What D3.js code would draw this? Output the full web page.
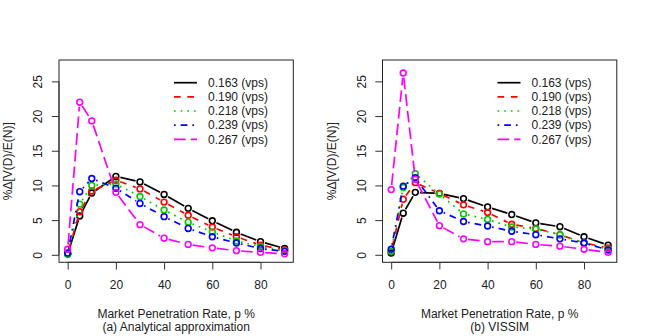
<!DOCTYPE html>
<html>
<head>
<meta charset="utf-8">
<script src="https://d3js.org/d3.v7.min.js"></script>
<style>
  body { margin: 0; background: #fff; }
  svg { display: block; font-family: "Liberation Sans", Arial, sans-serif; }
</style>
</head>
<body>
<div id="chart"></div>
<script>
// Data
const rates = [0, 5, 10, 20, 30, 40, 50, 60, 70, 80, 90];
const flows = ["0.163 (vps)", "0.190 (vps)", "0.218 (vps)", "0.239 (vps)", "0.267 (vps)"];
const yTicks = [0, 5, 10, 15, 20, 25];
const xTicks = [0, 20, 40, 60, 80];

// (a) Analytical approximation
const ana163 = [0.1, 5.6, 8.9, 11.3, 10.5, 8.7, 6.7, 4.9, 3.25, 1.9, 0.9];
const ana190 = [0.2, 6.2, 9.2, 10.75, 9.5, 7.6, 5.7, 4.0, 2.6, 1.4, 0.7];
const ana218 = [0.1, 7.3, 10.0, 10.2, 8.4, 6.45, 4.7, 3.3, 2.0, 1.2, 0.6];
const ana239 = [0.25, 9.1, 11.0, 9.6, 7.4, 5.5, 3.8, 2.6, 1.7, 0.9, 0.5];
const ana267 = [0.8, 22.0, 19.3, 9.0, 4.35, 2.4, 1.5, 1.0, 0.6, 0.35, 0.15];

// (b) VISSIM
const sim163 = [0.25, 6.0, 9.0, 8.85, 8.1, 6.9, 5.8, 4.6, 4.05, 2.6, 1.4];
const sim190 = [0.5, 8.0, 10.4, 8.85, 7.2, 6.1, 4.4, 3.8, 2.9, 1.7, 1.0];
const sim218 = [0.5, 9.7, 11.7, 8.75, 5.9, 5.1, 4.0, 3.7, 2.9, 1.7, 0.8];
const sim239 = [0.8, 9.9, 11.1, 6.35, 4.8, 4.15, 3.4, 2.9, 2.3, 1.7, 0.7];
const sim267 = [9.4, 26.2, 10.9, 4.2, 2.3, 1.9, 1.9, 1.5, 1.25, 0.8, 0.35];

const panels = [
  { caption: "(a) Analytical approximation", series: [ana163, ana190, ana218, ana239, ana267] },
  { caption: "(b) VISSIM", series: [sim163, sim190, sim218, sim239, sim267] }
];

const colors = ["#000000", "#ff0000", "#00cd00", "#0000ff", "#ff00ff"];
// R lty 1..5 scaled to the line width
const u = 1.67;
const dashes = ["none", [4, 4], [1, 3], [1, 3, 4, 3], [7, 3]]
  .map(d => d === "none" ? null : d.map(v => v * u).join(","));

const width = 648, height = 336;
const panelShift = 323.5;
const box = { left: 59, right: 293.3, top: 60, bottom: 262.3 };

const svg = d3.select("#chart").append("svg")
  .attr("width", width).attr("height", height);

panels.forEach((panel, pi) => {
  const g = svg.append("g").attr("transform", `translate(${pi * panelShift},0)`);

  // R style 4% padding
  const x = d3.scaleLinear().domain([-3.6, 93.6]).range([box.left, box.right]);
  const y = d3.scaleLinear().domain([-1.08, 28.08]).range([box.bottom, box.top]);

  // Series: type="b" (segments gapped around the points)
  const gap = 4.6;
  panel.series.forEach((vals, si) => {
    const pts = rates.map((r, i) => [x(r), y(vals[i])]);
    const segs = d3.pairs(pts).map(([a, b]) => {
      const dx = b[0] - a[0], dy = b[1] - a[1];
      const len = Math.hypot(dx, dy);
      if (len <= 2 * gap) return null;
      const ux = dx / len, uy = dy / len;
      return [a[0] + ux * gap, a[1] + uy * gap, b[0] - ux * gap, b[1] - uy * gap];
    }).filter(s => s);

    g.append("g").selectAll("line")
      .data(segs)
      .join("line")
      .attr("x1", d => d[0]).attr("y1", d => d[1])
      .attr("x2", d => d[2]).attr("y2", d => d[3])
      .attr("stroke", colors[si])
      .attr("stroke-width", 1.7)
      .attr("stroke-dasharray", dashes[si]);

    g.append("g").selectAll("circle")
      .data(pts)
      .join("circle")
      .attr("cx", d => d[0]).attr("cy", d => d[1])
      .attr("r", 2.9)
      .attr("fill", "none")
      .attr("stroke", colors[si])
      .attr("stroke-width", 1.6);
  });

  // Box
  g.append("rect")
    .attr("x", box.left).attr("y", box.top)
    .attr("width", box.right - box.left).attr("height", box.bottom - box.top)
    .attr("fill", "none").attr("stroke", "#222").attr("stroke-width", 1);

  // Axes
  const yAxis = g.append("g")
    .attr("transform", `translate(${box.left},0)`)
    .call(d3.axisLeft(y).tickValues(yTicks).tickSize(7.2).tickPadding(6));
  yAxis.select(".domain").attr("d", `M0,${y(0)}V${y(25)}`);
  yAxis.selectAll(".tick text")
    .attr("transform", "rotate(-90)")
    .attr("x", 0)
    .attr("y", -21)
    .attr("dy", "0.35em")
    .attr("text-anchor", "middle");

  const xAxis = g.append("g")
    .attr("transform", `translate(0,${box.bottom})`)
    .call(d3.axisBottom(x).tickValues(xTicks).tickSize(7.2).tickPadding(11));
  xAxis.select(".domain").attr("d", `M${x(0)},0H${x(80)}`);

  g.selectAll(".tick text").attr("font-size", 12).attr("fill", "#222")
    .attr("font-family", "Liberation Sans, Arial, sans-serif");
  g.selectAll(".tick line, .domain").attr("stroke", "#333");

  // Axis titles
  const cx = (box.left + box.right) / 2;
  g.append("text")
    .attr("x", cx).attr("y", 317.5)
    .attr("text-anchor", "middle").attr("font-size", 12).attr("fill", "#222")
    .text("Market Penetration Rate, p %");
  g.append("text")
    .attr("x", cx).attr("y", 330.5)
    .attr("text-anchor", "middle").attr("font-size", 12).attr("fill", "#222")
    .text(panel.caption);
  g.append("text")
    .attr("transform", `translate(12,${(box.top + box.bottom) / 2}) rotate(-90)`)
    .attr("text-anchor", "middle").attr("font-size", 12).attr("fill", "#222")
    .text("%\u0394[V(D)/E(N)]");

  // Legend
  const lx = box.left + 115;
  const legend = g.append("g").selectAll("g")
    .data(flows)
    .join("g")
    .attr("transform", (d, i) => `translate(${lx},${82.7 + i * 14.15})`);
  legend.append("line")
    .attr("x1", 0).attr("x2", 23)
    .attr("stroke", (d, i) => colors[i])
    .attr("stroke-width", 1.7)
    .attr("stroke-dasharray", (d, i) => dashes[i]);
  legend.append("text")
    .attr("x", 34).attr("dy", "0.35em")
    .attr("font-size", 12).attr("fill", "#222")
    .text(d => d);
});
</script>
</body>
</html>
